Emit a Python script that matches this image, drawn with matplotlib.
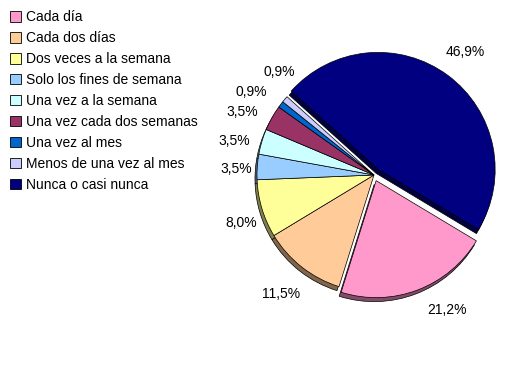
import numpy as np
import matplotlib.pyplot as plt
from matplotlib.colors import to_rgb

plt.rcParams['font.family'] = ['Liberation Sans', 'DejaVu Sans']

# Datos
categorias = ['Cada día', 'Cada dos días', 'Dos veces a la semana',
              'Solo los fines de semana', 'Una vez a la semana',
              'Una vez cada dos semanas', 'Una vez al mes',
              'Menos de una vez al mes', 'Nunca o casi nunca']
porcentajes = [21.2, 11.5, 8.0, 3.5, 3.5, 3.5, 0.9, 0.9, 46.9]
etiquetas = ['21,2%', '11,5%', '8,0%', '3,5%', '3,5%', '3,5%',
             '0,9%', '0,9%', '46,9%']

# Estilo
colores = ['#FF99CC', '#FFCC99', '#FFFF99', '#99CCFF', '#CCFFFF',
           '#993366', '#0066CC', '#CCCCFF', '#000080']
sombras = [tuple(0.5 * c for c in to_rgb(col)) for col in colores]
# separación de las porciones (en píxeles, ya que 1 unidad = 1 px)
explode = [6, 0, 0, 0, 0, 0, 0, 0, 7]
# pequeños giros (grados) para separar etiquetas como en Excel
giro = [7.5, 0, 3, 1.5, 3, 3.5, 3, -7, 0]
dist = [1.31, 1.29, 1.21, 1.18, 1.23, 1.25, 1.27, 1.2, 1.31]

fig = plt.figure(figsize=(5.3, 3.65), dpi=100)
ax = fig.add_axes([0, 0, 1, 1])

cx, cy, r = 374, 190, 117
start = -31

# sombra (profundidad)
ax.pie(porcentajes, colors=sombras, explode=explode, startangle=start,
       counterclock=False, radius=r, center=(cx - 2, cy - 4), frame=True,
       wedgeprops=dict(edgecolor='black', linewidth=0.5))
ax.pie(porcentajes, colors=colores, explode=explode, startangle=start,
       counterclock=False, radius=r, center=(cx, cy), frame=True,
       wedgeprops=dict(edgecolor='black', linewidth=0.5))
ax.set_xlim(0, 530)
ax.set_ylim(0, 365)
ax.set_aspect('equal')
ax.axis('off')

# etiquetas de porcentaje
total = sum(porcentajes)
ang = start
for p, lab, g, d in zip(porcentajes, etiquetas, giro, dist):
    mid = ang - 360 * p / total / 2
    ang -= 360 * p / total
    a = np.deg2rad(mid + g)
    ax.text(cx + d * r * np.cos(a), cy + d * r * np.sin(a), lab,
            ha='center', va='center', fontsize=10)

# leyenda
handles = [plt.Rectangle((0, 0), 1, 1, facecolor=c, edgecolor='black',
                         linewidth=0.6) for c in colores]
fig.legend(handles, categorias, loc='upper left', bbox_to_anchor=(0.0, 1.0),
           frameon=False, fontsize=10, handlelength=0.75, handleheight=0.75,
           handletextpad=0.35, labelspacing=0.5, borderaxespad=0.35)

fig.savefig('out.png', dpi=100)
